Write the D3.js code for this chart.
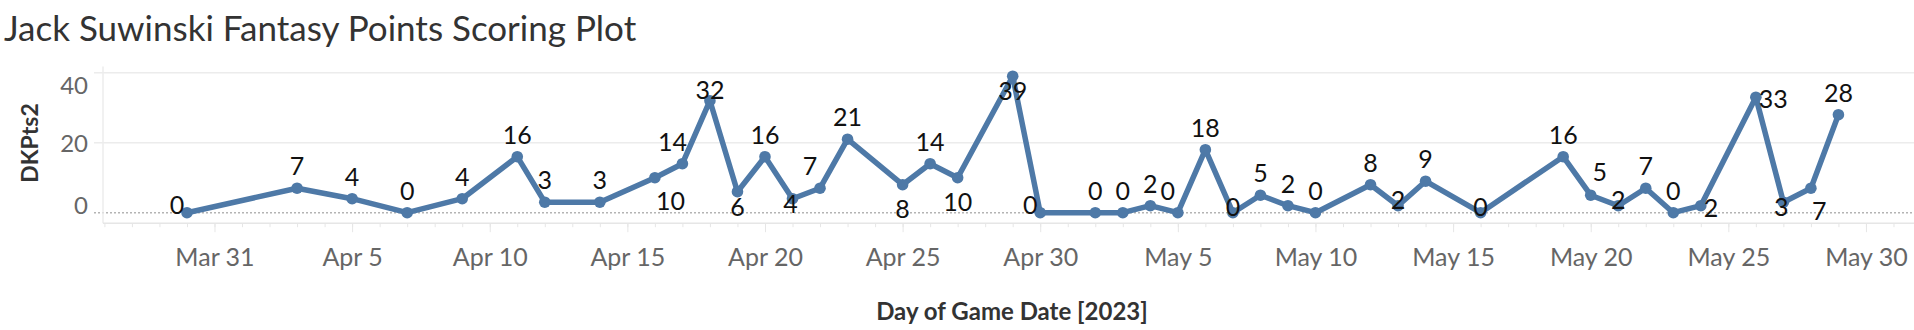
<!DOCTYPE html>
<html lang="en">
<head>
    <meta charset="UTF-8">
    <title>Jack Suwinski Fantasy Points</title>
    <script src="https://d3js.org/d3.v7.min.js"></script>
    <style>
      body { margin: 0; background: #fff; }
      text { font-family: Lato, "Open Sans", sans-serif; }
    </style>
</head>
<body>
<div class="chart"></div>
<script>
  // game dates and DK points (labels are the rounded points)
  const gameDates = [
    "2023-03-30","2023-04-03","2023-04-05","2023-04-07","2023-04-09","2023-04-11","2023-04-12","2023-04-14",
    "2023-04-16","2023-04-17","2023-04-18","2023-04-19","2023-04-20","2023-04-21","2023-04-22","2023-04-23",
    "2023-04-25","2023-04-26","2023-04-27","2023-04-29","2023-04-30","2023-05-02","2023-05-03","2023-05-04",
    "2023-05-05","2023-05-06","2023-05-07","2023-05-08","2023-05-09","2023-05-10","2023-05-12","2023-05-13",
    "2023-05-14","2023-05-16","2023-05-19","2023-05-20","2023-05-21","2023-05-22","2023-05-23","2023-05-24",
    "2023-05-26","2023-05-27","2023-05-28","2023-05-29"
  ];
  const dkPts = [0,7,4,0,4,16,3,3,10,14,32,6,16,4,7,21,8,14,10,39,0,0,0,2,0,18,0,5,2,0,8,2,9,0,16,5,2,7,0,2,33,3,7,28];
  // where Tableau put each mark label
  const labelPos = ["L","T","T","T","T","T","T","T","BR","TL","N","Bs","T","D","TL","T","B","T","B","Bs",
    "L","T","T","T","TL","T","C","T","T","T","T","C","T","C","T","TR","C","T","T","R","R","D","BR","T"];
  const xTickDates = ["2023-03-31","2023-04-05","2023-04-10","2023-04-15","2023-04-20","2023-04-25","2023-04-30",
    "2023-05-05","2023-05-10","2023-05-15","2023-05-20","2023-05-25","2023-05-30"];
  const yTicks = [0, 20, 40];
  const xDomain = ["2023-03-27","2023-06-01"];

  const W = 1914, H = 330;
  const parse = d3.utcParse("%Y-%m-%d");
  const data = gameDates.map((d, i) => ({date: parse(d), v: dkPts[i], pos: labelPos[i]}));

  const svg = d3.select('.chart').append('svg').attr('width', W).attr('height', H);

  const x = d3.scaleUtc().domain(xDomain.map(parse)).range([104.4, 1921]);
  const y = d3.scaleLinear().domain([0, 40]).range([212.7, 72.7]);
  const paneLeft = 103, paneTop = y(41.8), paneBottom = y(-3);

  // title
  svg.append('text').attr('x', 4).attr('y', 41).attr('font-size', 35).attr('fill', '#333').text('Jack Suwinski Fantasy Points Scoring Plot');

  // gridlines
  const grid = svg.append('g');
  grid.selectAll('line').data(yTicks.filter(t => t !== 0)).join('line')
    .attr('x1', 94).attr('x2', W).attr('y1', d => y(d)).attr('y2', d => y(d))
    .attr('stroke', '#ececec').attr('stroke-width', 1.5);
  grid.append('line').attr('x1', 94).attr('x2', W).attr('y1', y(0)).attr('y2', y(0))
    .attr('stroke', '#b4b4b4').attr('stroke-width', 1.5).attr('stroke-dasharray', '2,2');
  grid.append('line').attr('x1', paneLeft).attr('x2', paneLeft).attr('y1', paneTop).attr('y2', paneBottom)
    .attr('stroke', '#ececec').attr('stroke-width', 1.5);

  // y axis labels
  svg.append('g').selectAll('text').data(yTicks).join('text')
    .attr('x', 88).attr('y', d => d === 40 ? y(d) + 12 : d === 0 ? y(d) - 8 : y(d))
    .attr('text-anchor', 'end').attr('dominant-baseline', 'central')
    .attr('font-size', 24).attr('fill', '#666').text(d => d);
  svg.append('text').attr('transform', `translate(29 ${143}) rotate(-90)`)
    .attr('text-anchor', 'middle').attr('dominant-baseline', 'central')
    .attr('font-size', 23).attr('font-weight', 'bold').attr('fill', '#333').text('DKPts2');

  // x axis
  const xAxis = d3.axisBottom(x).ticks(d3.utcDay.every(1)).tickSize(4).tickFormat('');
  const gx = svg.append('g').attr('transform', `translate(0 ${paneBottom})`).call(xAxis);
  gx.select('.domain').attr('stroke', '#e6e6e6').attr('stroke-width', 1.5).attr('d', `M${paneLeft},0H${W}`);
  gx.selectAll('.tick line').attr('stroke', '#e6e6e6');
  const majors = xTickDates.map(parse);
  const gx2 = svg.append('g').attr('transform', `translate(0 ${paneBottom})`)
    .call(d3.axisBottom(x).tickValues(majors).tickSize(9).tickPadding(16).tickFormat(d3.utcFormat('%b %-d')));
  gx2.select('.domain').remove();
  gx2.selectAll('.tick line').attr('stroke', '#e6e6e6');
  gx2.selectAll('.tick text').attr('font-size', 25).attr('fill', '#666').attr('font-family', 'Lato');
  svg.append('text').attr('x', 1012).attr('y', 310).attr('text-anchor', 'middle').attr('dominant-baseline', 'central')
    .attr('font-size', 24).attr('font-weight', 'bold').attr('fill', '#333').text('Day of Game Date [2023]');

  // line + marks
  const blue = '#4e79a7';
  const line = d3.line().x(d => x(d.date)).y(d => y(d.v));
  svg.append('path').attr('d', line(data)).attr('fill', 'none').attr('stroke', blue)
    .attr('stroke-width', 5.5).attr('stroke-linejoin', 'round');
  svg.append('g').selectAll('circle').data(data).join('circle')
    .attr('cx', d => x(d.date)).attr('cy', d => y(d.v)).attr('r', 5.8).attr('fill', blue);

  // mark labels
  const off = {
    T: [0, -23, 'middle'], B: [0, 23, 'middle'], Bs: [0, 14, 'middle'], N: [0, -12, 'middle'],
    L: [-10, -9, 'middle'], TL: [-10, -23, 'middle'], TR: [9, -24, 'middle'], R: [3, 1, 'start'],
    C: [0, -7, 'middle'], D: [-2, 4, 'middle'], BR: [1, 22, 'start']
  };
  svg.append('g').selectAll('text').data(data).join('text')
    .attr('x', d => x(d.date) + off[d.pos][0]).attr('y', d => y(d.v) + off[d.pos][1])
    .attr('text-anchor', d => off[d.pos][2]).attr('dominant-baseline', 'central')
    .attr('font-size', 25).attr('fill', '#111').text(d => d.v);
</script>
</body>
</html>
